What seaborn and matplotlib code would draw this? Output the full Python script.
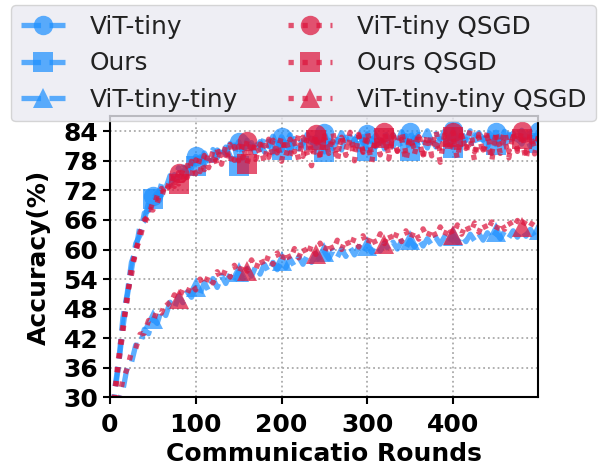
import matplotlib
matplotlib.use("Agg")
import matplotlib.pyplot as plt
import seaborn as sns
import pandas as pd

rounds = list(range(0, 501, 5))

vit_tiny = [10, 31.2, 37.0, 46.1, 51.0, 57.4, 59.8, 64.9, 65.8, 69.6, 70.8, 70.4, 73.3, 72.4, 75.0, 74.1, 76.6, 75.3, 77.8, 76.5,
            78.9, 77.4, 79.6, 78.0, 80.3, 78.6, 81.1, 79.3, 81.5, 79.8, 81.9, 80.0, 82.2, 80.4, 82.5, 80.3, 82.7, 80.9, 83.0, 80.6,
            82.9, 81.2, 83.3, 80.8, 82.6, 81.5, 83.4, 81.0, 82.8, 81.6, 83.6, 81.2, 83.1, 81.8, 83.7, 81.4, 82.9, 81.9, 83.8, 81.5,
            83.5, 82.0, 83.2, 81.6, 84.0, 82.1, 83.3, 81.7, 83.9, 82.2, 83.8, 81.8, 83.4, 82.3, 84.1, 81.9, 83.5, 82.4, 84.0, 82.0,
            84.2, 82.5, 83.6, 82.1, 84.1, 82.6, 83.7, 82.2, 84.3, 82.7, 83.8, 82.3, 84.0, 82.8, 83.6, 82.4, 84.2, 82.9, 83.7, 82.5,
            84.0]
ours = [10, 30.0, 36.6, 44.0, 50.4, 55.8, 61.2, 62.9, 67.4, 67.9, 70.2, 71.5, 71.0, 73.6, 73.1, 75.2, 74.6, 76.7, 75.8, 77.6,
        76.9, 78.8, 77.3, 79.4, 78.1, 80.2, 78.5, 80.8, 79.0, 81.2, 77.0, 80.9, 79.4, 81.7, 79.2, 81.9, 79.8, 82.0, 79.6, 82.3,
        80.1, 82.1, 79.9, 82.5, 80.4, 81.8, 80.0, 82.6, 80.6, 82.2, 79.8, 82.7, 80.5, 82.3, 80.2, 82.8, 80.7, 82.4, 80.3, 82.9,
        80.0, 82.5, 80.8, 83.0, 80.4, 82.6, 80.9, 82.2, 80.5, 83.1, 79.9, 82.7, 81.0, 82.3, 80.6, 83.2, 80.8, 82.5, 81.1, 83.0,
        80.7, 82.8, 81.2, 82.4, 80.9, 83.3, 81.0, 82.6, 80.8, 83.1, 81.3, 82.7, 80.9, 83.4, 81.1, 82.6, 81.4, 83.0, 80.9, 82.8,
        81.6]
vit_tiny_tiny = [15, 22.0, 29.2, 31.4, 36.1, 37.0, 40.6, 40.5, 43.8, 42.9, 45.9, 45.0, 47.8, 46.6, 49.3, 48.0, 50.5, 49.2, 51.4, 50.3,
                 52.3, 51.0, 53.3, 51.6, 54.1, 52.3, 54.7, 53.1, 55.0, 53.6, 55.5, 54.1, 56.2, 54.6, 56.6, 55.0, 57.0, 55.4, 57.4, 55.9,
                 57.6, 56.3, 58.1, 56.6, 58.5, 57.0, 58.8, 57.4, 59.2, 57.7, 59.5, 58.1, 59.8, 58.4, 60.1, 58.6, 60.4, 58.9, 60.6, 59.2,
                 60.8, 59.4, 61.0, 59.7, 61.3, 59.9, 61.5, 60.1, 61.7, 60.3, 61.9, 60.5, 62.1, 60.7, 62.2, 60.9, 62.4, 61.1, 62.6, 61.2,
                 62.8, 61.4, 62.9, 61.6, 63.1, 61.8, 63.2, 61.9, 63.4, 62.1, 63.5, 62.2, 63.7, 62.4, 63.8, 62.5, 64.0, 62.7, 64.1, 62.8,
                 64.0]
vit_tiny_qsgd = [10, 29.0, 36.9, 43.1, 50.9, 54.8, 60.1, 62.2, 66.0, 66.7, 69.8, 69.4, 72.4, 71.2, 74.3, 72.8, 75.6, 74.0, 77.1, 74.9,
                 78.2, 75.8, 79.1, 76.6, 80.0, 77.2, 80.6, 77.8, 81.3, 78.1, 81.0, 78.6, 82.0, 78.9, 81.8, 79.3, 82.5, 78.7, 82.2, 79.6,
                 83.0, 79.0, 82.4, 79.8, 83.3, 78.9, 82.7, 80.1, 83.4, 79.2, 82.9, 79.7, 83.6, 79.0, 82.8, 80.2, 83.8, 79.4, 83.1, 79.9,
                 84.0, 79.3, 82.6, 80.4, 83.9, 79.1, 83.3, 80.0, 84.1, 79.5, 82.7, 80.3, 83.7, 79.2, 83.0, 80.6, 84.2, 79.6, 82.9, 80.1,
                 83.8, 79.4, 83.2, 80.5, 84.3, 79.8, 82.8, 80.2, 83.9, 79.5, 83.4, 80.7, 84.1, 79.9, 82.9, 80.4, 84.0, 79.7, 83.5, 80.6,
                 83.2]
ours_qsgd = [10, 30.4, 38.1, 44.5, 49.6, 56.9, 58.9, 63.6, 64.8, 68.2, 68.0, 71.0, 70.5, 73.5, 72.2, 75.4, 73.3, 76.3, 74.6, 77.9,
             75.4, 78.6, 76.2, 79.7, 76.8, 80.4, 77.3, 81.2, 77.5, 80.9, 78.0, 81.6, 77.4, 82.1, 78.3, 81.4, 77.6, 82.4, 78.8, 81.7,
             77.9, 82.6, 79.0, 81.9, 78.2, 82.8, 79.3, 77.0, 82.3, 78.6, 83.1, 79.5, 82.0, 77.8, 83.3, 79.1, 82.5, 78.0, 83.4, 79.7,
             82.2, 77.6, 83.0, 79.2, 82.7, 78.4, 83.5, 79.9, 82.4, 77.9, 83.2, 79.4, 82.9, 78.5, 83.6, 79.0, 82.6, 77.7, 83.3, 79.6,
             82.8, 78.3, 83.7, 79.8, 82.5, 78.1, 83.4, 79.3, 82.9, 77.9, 83.6, 79.5, 82.7, 78.6, 83.8, 79.9, 82.4, 78.2, 83.5, 79.4,
             82.9]
vit_tiny_tiny_qsgd = [15, 23.0, 29.0, 33.6, 35.8, 39.2, 39.9, 42.8, 43.0, 45.6, 45.2, 47.8, 47.1, 49.5, 48.6, 50.8, 49.9, 52.0, 51.0, 53.1,
                      51.8, 54.0, 52.6, 54.8, 53.2, 55.5, 53.9, 56.1, 54.4, 56.8, 55.0, 57.3, 55.6, 57.9, 56.0, 58.4, 56.5, 58.9, 57.0, 59.3,
                      57.4, 59.8, 57.9, 60.2, 58.3, 60.6, 58.7, 61.0, 59.0, 61.3, 59.4, 61.6, 59.7, 61.9, 60.0, 62.2, 60.3, 62.5, 60.5, 62.8,
                      60.8, 63.0, 61.0, 63.2, 61.2, 63.4, 61.4, 63.6, 61.6, 63.8, 61.9, 64.0, 62.1, 64.2, 62.3, 64.4, 62.5, 64.6, 62.7, 64.8,
                      62.9, 65.0, 63.1, 65.2, 63.3, 65.4, 63.5, 65.5, 63.7, 65.6, 63.9, 65.7, 64.1, 65.8, 64.3, 65.9, 64.5, 66.0, 64.7, 66.1,
                      65.0]

labels = ["ViT-tiny", "Ours", "ViT-tiny-tiny", "ViT-tiny QSGD", "Ours QSGD", "ViT-tiny-tiny QSGD"]
series = [vit_tiny, ours, vit_tiny_tiny, vit_tiny_qsgd, ours_qsgd, vit_tiny_tiny_qsgd]
markers = ["o", "s", "^", "o", "s", "^"]

sns.set_theme(style="white")
plt.rcParams["font.family"] = ["DejaVu Sans"]

fig = plt.figure(figsize=(6.03, 4.69), dpi=100)
ax = fig.add_axes([110 / 603, 1 - 397.3 / 469, (538 - 110) / 603, (397.3 - 116.5) / 469])

blue = "#1E90FF"
red = "#DC143C"
for i, (lab, vals, mk) in enumerate(zip(labels, series, markers)):
    df = pd.DataFrame({"round": rounds, "acc": vals})
    is_q = i >= 3
    sns.lineplot(data=df, x="round", y="acc", ax=ax, label=lab,
                 color=red if is_q else blue,
                 linestyle=":" if is_q else "--",
                 linewidth=3.8,
                 marker=mk, markersize=14,
                 markevery=16 if is_q else 10,
                 markeredgewidth=0, alpha=0.72,
                 estimator=None, sort=False)

ax.set_xlim(0, 499)
ax.set_ylim(30, 87)
ax.set_xticks([0, 100, 200, 300, 400])
ax.set_yticks(list(range(30, 85, 6)))
ax.grid(True, linestyle=":", color="#aaaaaa", linewidth=1.3)
ax.set_facecolor("white")
for s in ["left", "bottom", "right", "top"]:
    ax.spines[s].set_color("black")
    ax.spines[s].set_linewidth(1.5)
ax.tick_params(axis="both", which="major", direction="out", length=5, width=1.5,
               color="black", labelsize=18, labelcolor="black", left=True, bottom=True)
ax.tick_params(axis="x", pad=6)
for t in ax.get_xticklabels() + ax.get_yticklabels():
    t.set_fontweight("bold")
ax.set_xlabel("Communicatio Rounds", fontsize=18, fontweight="bold", color="black", labelpad=4)
ax.set_ylabel("Accuracy(%)", fontsize=18, fontweight="bold", color="black", labelpad=9)

leg = ax.legend(ncol=2, loc="upper left", bbox_to_anchor=(11 / 603, 1 - 5 / 469),
                bbox_transform=fig.transFigure, borderaxespad=0,
                prop={"size": 17.8},
                frameon=True, facecolor="#EAEAF2", framealpha=0.8, edgecolor="0.8",
                handlelength=1.8, handletextpad=1.0, columnspacing=2.0, labelspacing=0.5,
                borderpad=0.4)
for t in leg.get_texts():
    t.set_color("#222222")

fig.savefig("out.png", dpi=100)
